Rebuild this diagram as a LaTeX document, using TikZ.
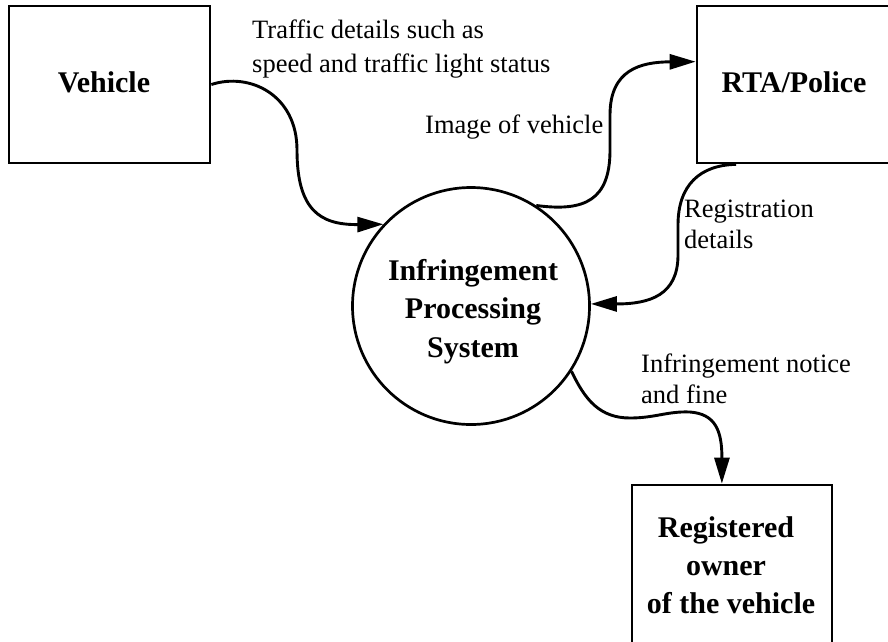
\documentclass[tikz,border=0pt]{standalone}
\usepackage{fontspec}
\setmainfont{Liberation Serif}
\usetikzlibrary{arrows.meta,calc}
\begin{document}
\begin{tikzpicture}[x=1pt,y=-1pt,
  box/.style={draw,line width=2.7pt,inner sep=0pt},
  ent/.style={font=\bfseries\fontsize{30}{38}\selectfont,anchor=base,inner sep=0pt},
  lbl/.style={font=\fontsize{26.5}{32}\selectfont,anchor=base west,inner sep=0pt},
  flow/.style={line width=2.9pt,-{Triangle[length=26pt,width=15pt]}}]
\useasboundingbox (0,0) rectangle (888,641);
\clip (0,0) rectangle (888,641);
% entities
\node[box,minimum width=201pt,minimum height=157pt] (veh) at (109.5,84.5) {};
\node[box,minimum width=194pt,minimum height=157pt] (rta) at (794,84.5) {};
\node[box,minimum width=200pt,minimum height=200pt] (owner) at (732,585) {};
\node[box,circle,minimum size=237pt] (ips) at (471,306) {};
% entity texts
\node[ent] (vehtxt) at (104,92) {Vehicle};
\node[ent] (rtatxt) at (794,92) {RTA/Police};
\node[ent] (ips1) at (473,280) {Infringement};
\node[ent] (ips2) at (473,318) {Processing};
\node[ent] (ips3) at (473,357) {System};
\node[ent] (own1) at (726,537) {Registered};
\node[ent] (own2) at (726,575) {owner};
\node[ent] (own3) at (731,613) {of the vehicle};
% flow labels
\node[lbl] (l1a) at (252,38) {Traffic details such as};
\node[lbl] (l1b) at (252,72) {speed and traffic light status};
\node[lbl] (l2) at (425,133) {Image of vehicle};
\node[lbl] (l3a) at (684,217) {Registration};
\node[lbl] (l3b) at (684,248) {details};
\node[lbl] (l4a) at (641,372) {Infringement notice};
\node[lbl] (l4b) at (641,403) {and fine};
% flows
\draw[flow] (veh.east) .. controls (250,72) and (297,95) .. (297,150)
  .. controls (297,210) and (320,225) .. (ips.137);
\draw[flow] (ips.57) .. controls (585,212) and (610,200) .. (610,150) -- (610,115)
  .. controls (610,70) and (640,62) .. ($(rta.north west)!0.357!(rta.south west)$);
\draw[flow] ($(rta.south west)!0.206!(rta.south east)$) .. controls (700,165) and (678,185) .. (678,225)
  -- (678,255) .. controls (678,295) and (650,304) .. (ips.1);
\draw[flow] (ips.-33) .. controls (585,400) and (600,418) .. (630,418)
  .. controls (655,418) and (668,411) .. (690,412)
  .. controls (715,414) and (722,430) .. ($(owner.north west)!0.45!(owner.north east)$);
\end{tikzpicture}
\end{document}
